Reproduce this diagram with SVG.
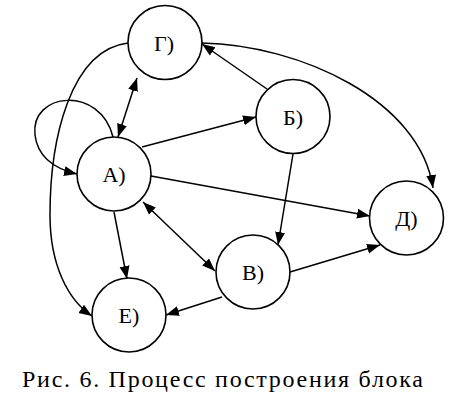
<svg xmlns="http://www.w3.org/2000/svg" width="457" height="412" viewBox="0 0 457 412">
<style>
.node circle{fill:#fff;stroke:#000;stroke-width:1.6}
.node text{font-family:'Liberation Serif','DejaVu Serif',serif;font-size:22px;text-anchor:middle;fill:#000}
#edges path{fill:none;stroke:#000;stroke-width:1.5;marker-end:url(#ah)}
#edges path.bi{marker-start:url(#ah)}
.cap{font-family:'Liberation Serif','DejaVu Serif',serif;font-size:24px;fill:#000}
</style>
<defs>
<marker id="ah" markerUnits="userSpaceOnUse" markerWidth="14" markerHeight="12" refX="13" refY="5" orient="auto-start-reverse" viewBox="0 0 14 10">
<path d="M0,0 L13,5 L0,10 Z" fill="#000"/>
</marker>
</defs>
<g id="edges">
<path class="bi" d="M137,78 L118,137"/>
<path d="M113,137 C100,85 30,92 35,135 C38,160 60,170 77,174"/>
<path d="M128,43 C70,50 50,140 50,215 C50,265 68,300 92,316"/>
<path d="M142,147 L256,117"/>
<path d="M267,89 L202,44"/>
<path d="M202,43 C300,45 420,100 433,188"/>
<path d="M151,176 L370,216"/>
<path d="M293,154 L278,245"/>
<path class="bi" d="M143,202 L215,271"/>
<path d="M290,272 L380,245"/>
<path d="M114,212 L127,279"/>
<path d="M222,297 L166,315"/>
</g>
<g id="node-G" class="node"><circle cx="165" cy="42.5" r="37"/><text x="164" y="50.5">Г)</text></g>
<g id="node-B6" class="node"><circle cx="293" cy="116.5" r="37"/><text x="293" y="124.5">Б)</text></g>
<g id="node-A" class="node"><circle cx="114" cy="174" r="37"/><text x="114" y="182">А)</text></g>
<g id="node-D" class="node"><circle cx="406.5" cy="218" r="37"/><text x="406.5" y="226">Д)</text></g>
<g id="node-V" class="node"><circle cx="253" cy="272" r="37"/><text x="253" y="280">В)</text></g>
<g id="node-E" class="node"><circle cx="129" cy="315" r="37"/><text x="129" y="323">Е)</text></g>
<text class="cap" x="22" y="387" textLength="401">Рис. 6. Процесс построения блока</text>
</svg>
